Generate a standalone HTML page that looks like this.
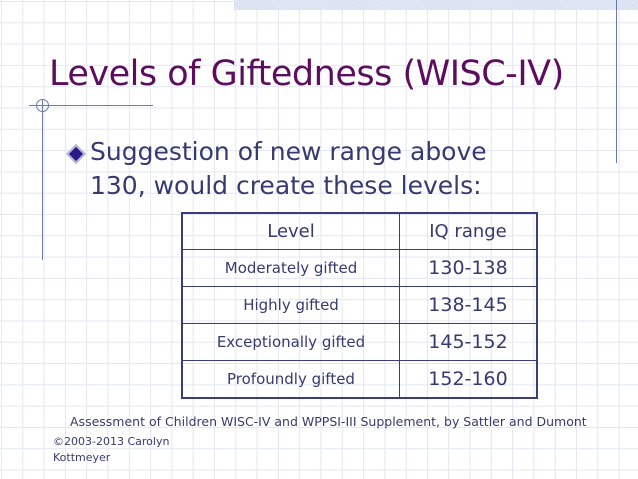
<!DOCTYPE html>
<html><head><meta charset="utf-8"><style>
html,body{margin:0;padding:0}
body{width:638px;height:479px;position:relative;overflow:hidden;font-family:"DejaVu Sans","Liberation Sans",sans-serif;
background-color:#fff;
background-image:linear-gradient(to right,#e3e7f2 1px,transparent 1px),linear-gradient(to bottom,#e3e7f2 1px,transparent 1px);
background-size:21.3px 21.3px;background-position:1px 1px}
.abs{position:absolute}
#band{left:234px;top:0;width:404px;height:10px;background:repeating-linear-gradient(45deg,#d4dcf0 0 1px,#e8ecf8 1px 2px)}
#title{left:49px;top:54px;font-size:35px;color:#5c0e5e;white-space:nowrap;letter-spacing:-0.5px}
.bt{font-size:25px;color:#363a70;white-space:nowrap;left:90px}
table{position:absolute;left:181px;top:212px;width:357px;height:187px;border-collapse:collapse;border:2px solid #3a3e78;background:transparent}
td{border:1px solid #3a3e78;text-align:center;color:#363a70;padding:0}
td.l{width:216px;font-size:15px}
td.r{font-size:19px}
tr.h td{font-size:18px}
</style></head><body>
<div class="abs" id="band"></div>
<div class="abs" style="left:616px;top:0;width:1px;height:163px;background:#6a78b0"></div>
<div class="abs" style="left:29px;top:105px;width:124px;height:1px;background:#6a78b0"></div>
<div class="abs" style="left:42px;top:100px;width:1px;height:160px;background:#6a78b0"></div>
<div class="abs" style="left:36px;top:99px;width:11px;height:11px;border:1px solid #6a78b0;border-radius:50%"></div>
<div class="abs" id="title">Levels of Giftedness (WISC-IV)</div>
<div class="abs" style="left:69px;top:147px;width:10px;height:10px;background:#2a1a8a;border:2px solid #b8b8d8;transform:rotate(45deg)"></div>
<div class="abs bt" style="top:137px">Suggestion of new range above</div>
<div class="abs bt" style="top:171px">130, would create these levels:</div>
<table>
<tr class="h"><td class="l">Level</td><td>IQ range</td></tr>
<tr><td class="l">Moderately gifted</td><td class="r">130-138</td></tr>
<tr><td class="l">Highly gifted</td><td class="r">138-145</td></tr>
<tr><td class="l">Exceptionally gifted</td><td class="r">145-152</td></tr>
<tr><td class="l">Profoundly gifted</td><td class="r">152-160</td></tr>
</table>
<div class="abs" style="left:70px;top:414px;font-size:12.5px;color:#363a70;white-space:nowrap">Assessment of Children WISC-IV and WPPSI-III Supplement, by Sattler and Dumont</div>
<div class="abs" style="left:53px;top:434px;font-size:11px;line-height:16px;color:#363a70">©2003-2013 Carolyn<br>Kottmeyer</div>
</body></html>
